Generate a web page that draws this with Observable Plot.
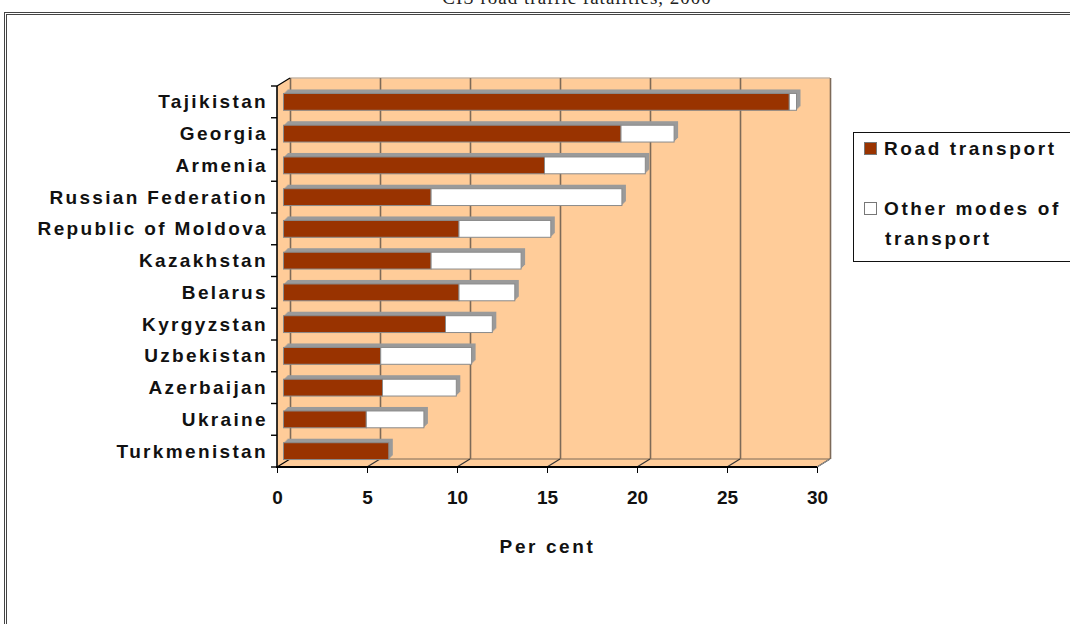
<!DOCTYPE html>
<html>
<head>
<meta charset="utf-8">
<script src="https://cdn.jsdelivr.net/npm/d3@7"></script>
<script src="https://cdn.jsdelivr.net/npm/@observablehq/plot@0.6"></script>
<style>
  html, body { margin: 0; padding: 0; width: 1070px; height: 624px; overflow: hidden; background: #fff; }
  #title { position: absolute; top: -13px; left: 0; width: 1154px; text-align: center; font: 19px "Liberation Serif", "Times New Roman", serif; letter-spacing: 1px; color: #222; white-space: nowrap; }
  #frame { position: absolute; left: 4px; top: 12px; width: 1110px; height: 700px; border: 3px double #444; }
  #chart { position: absolute; left: 0; top: 0; }
  #legend { position: absolute; left: 853px; top: 132px; width: 230px; height: 128px; border: 1.5px solid #111; background: #fff;
            font: bold 19px "Liberation Sans", Arial, sans-serif; letter-spacing: 2.6px; color: #111; }
  .item { position: absolute; left: 10px; line-height: 30px; }
  .sw { display: inline-block; width: 11px; height: 11px; border: 1px solid #777; margin-right: 7px; vertical-align: 0px; }
  g[aria-label="y-axis tick label"] text { letter-spacing: 2.35px; }
  g[aria-label="text"] text { letter-spacing: 2.6px; }
</style>
</head>
<body>
<div id="title">CIS road traffic fatalities, 2000</div>
<div id="frame"></div>
<div id="chart"></div>
<div id="legend">
  <div class="item" style="top:1px"><span class="sw" style="background:#993300"></span>Road transport</div>
  <div class="item" style="top:61px"><span class="sw" style="background:#fff"></span>Other modes of</div>
  <div class="item" style="top:91px; left:31px">transport</div>
</div>
<script>
const countries = ["Tajikistan","Georgia","Armenia","Russian Federation","Republic of Moldova","Kazakhstan","Belarus","Kyrgyzstan","Uzbekistan","Azerbaijan","Ukraine","Turkmenistan"];
const roadTransport = [28.1, 18.75, 14.5, 8.2, 9.75, 8.2, 9.75, 9.0, 5.4, 5.5, 4.6, 5.85];
const otherModes    = [0.4, 2.95, 5.6, 10.6, 5.1, 5.0, 3.1, 2.6, 5.05, 4.1, 3.2, 0];
const xTicks = [0, 5, 10, 15, 20, 25, 30];
const seriesColors = {road: "#993300", other: "#ffffff"};

const rows = countries.map((c, i) => ({country: c, road: roadTransport[i], other: otherModes[i], total: roadTransport[i] + otherModes[i]}));

const DX = 6.5, DY = 8;       // half depth of the pseudo-3D box
const wallFill = "#FFCC99", gridColor = "#7d6a58";

function walls(index, scales, values, dims) {
  const x = scales.x;
  const top = dims.marginTop, bot = dims.height - dims.marginBottom;
  const X0 = x(0), X1 = x(30);
  const g = d3.create("svg:g");
  g.append("path")
    .attr("d", `M${X0-DX},${top} L${X0+DX},${top-DY} L${X1+DX},${top-DY} L${X1+DX},${bot-DY} L${X1-DX},${bot} L${X0-DX},${bot} Z`)
    .attr("fill", wallFill).attr("stroke", "none");
  g.append("line").attr("x1", X0+DX).attr("x2", X1+DX).attr("y1", top-DY).attr("y2", top-DY)
    .attr("stroke", "#c8b8a8").attr("stroke-width", 1.5);
  g.append("line").attr("x1", X0+DX).attr("x2", X1+DX).attr("y1", bot-DY).attr("y2", bot-DY)
    .attr("stroke", gridColor).attr("stroke-width", 1);
  for (const v of xTicks) {
    g.append("line").attr("x1", x(v)-DX).attr("y1", bot).attr("x2", x(v)+DX).attr("y2", bot-DY)
      .attr("stroke", v === 0 ? "#000" : "#333").attr("stroke-width", 1.2);
  }
  return g.node();
}

function frontAxes(index, scales, values, dims) {
  const x = scales.x;
  const top = dims.marginTop, bot = dims.height - dims.marginBottom;
  const X0 = x(0), X1 = x(30);
  const g = d3.create("svg:g").attr("stroke", "#000");
  g.append("line").attr("x1", X0-DX).attr("x2", X0-DX).attr("y1", top).attr("y2", bot+0.5).attr("stroke-width", 1.6);
  g.append("line").attr("x1", X0-DX).attr("x2", X0+DX).attr("y1", top).attr("y2", top-DY).attr("stroke-width", 1.2);
  g.append("line").attr("x1", X0-DX-1).attr("x2", X1-DX).attr("y1", bot).attr("y2", bot).attr("stroke-width", 1.8);
  g.append("line").attr("x1", X1-DX).attr("x2", X1+DX).attr("y1", bot).attr("y2", bot-DY).attr("stroke", "#999").attr("stroke-width", 1);
  const step = (bot - top) / countries.length;
  for (let i = 0; i <= countries.length; i++) {
    const yy = top + i * step;
    g.append("line").attr("x1", X0-DX-6).attr("x2", X0-DX).attr("y1", yy).attr("y2", yy).attr("stroke-width", 1.4);
  }
  return g.node();
}

const depth = [1, 2, 3, 4];
const chart = Plot.plot({
  width: 1070, height: 624,
  marginLeft: 283.5, marginRight: 246.5, marginTop: 86, marginBottom: 157,
  x: {domain: [0, 30], axis: null},
  y: {domain: countries, paddingInner: 0.47, paddingOuter: 0.235, round: false, axis: null},
  style: {background: "transparent", fontFamily: "'Liberation Sans', Arial, sans-serif", color: "#111"},
  marks: [
    walls,
    Plot.ruleX(xTicks, {x: d => d, dx: DX, dy: -DY, stroke: gridColor, strokeWidth: 1.6}),
    ...depth.map(k => Plot.barX(rows, {y: "country", x1: 0, x2: "total", fill: "#9a9a9a", dx: k, dy: -k})),
    Plot.barX(rows, {y: "country", x1: 0, x2: "road", fill: seriesColors.road, stroke: "#8a8a8a", strokeWidth: 1}),
    Plot.barX(rows.filter(d => d.other > 0), {y: "country", x1: "road", x2: "total", fill: seriesColors.other, stroke: "#8a8a8a", strokeWidth: 1}),
    frontAxes,
    Plot.axisY({tickSize: 0, tickPadding: 16, fontSize: 19, fontWeight: "bold", label: null}),
    Plot.axisX({ticks: xTicks, dx: -DX, tickSize: 6, tickPadding: 17, fontSize: 19, fontWeight: "bold", stroke: "#000", label: null, tickFormat: d => String(d)}),
    Plot.text(["Per cent"], {x: 15, frameAnchor: "bottom", dx: -DX, dy: 85, fontSize: 19, fontWeight: "bold", fill: "#111"})
  ]
});
document.getElementById("chart").appendChild(chart);
</script>
</body>
</html>
